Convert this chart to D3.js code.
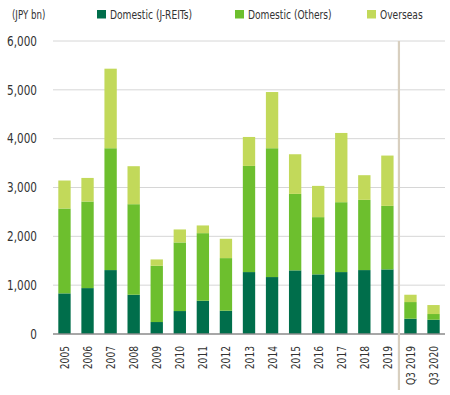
<!DOCTYPE html>
<html><head><meta charset="utf-8">
<script src="https://cdn.jsdelivr.net/npm/d3@7/dist/d3.min.js"></script>
<style>
body{margin:0;background:#fff;}
text{font-family:"DejaVu Sans Condensed","Liberation Sans Narrow","Roboto",sans-serif;fill:#333;}
</style></head>
<body><svg id="c" width="450" height="395"></svg>
<script>
const categories = ["2005","2006","2007","2008","2009","2010","2011","2012","2013","2014","2015","2016","2017","2018","2019","Q3 2019","Q3 2020"];
const jreits  = [832, 940, 1309, 804, 245, 470, 681, 477, 1268, 1166, 1303, 1221, 1268, 1309, 1323, 313, 292];
const others  = [1738, 1773, 2495, 1854, 1152, 1405, 1384, 1077, 2174, 2638, 1566, 1172, 1431, 1438, 1301, 341, 117];
const overseas= [573, 483, 1629, 778, 130, 266, 158, 396, 593, 1151, 812, 640, 1418, 505, 1030, 150, 184];
const seriesNames = ["Domestic (J-REITs)", "Domestic (Others)", "Overseas"];
const yTicks = [0, 1000, 2000, 3000, 4000, 5000, 6000];
const colors = ["#006e4b", "#6dbf2e", "#c2d95a"];

function condense(sel, k) {
  sel.each(function() {
    const w = this.getComputedTextLength();
    if (w > 0) d3.select(this).attr("textLength", w * k).attr("lengthAdjust", "spacingAndGlyphs");
  });
}

const svg = d3.select("#c");
const x = d3.scaleBand().domain(categories).range([53, 445]).paddingInner(0.465).paddingOuter(0.23);
const y = d3.scaleLinear().domain([0, 6000]).range([334, 41]);

// gridlines
svg.append("g").selectAll("line").data(yTicks.filter(d => d > 0)).join("line")
  .attr("x1", 53).attr("x2", 445).attr("y1", d => y(d)).attr("y2", d => y(d))
  .attr("stroke", "#d6d6d6").attr("stroke-width", 1);

// y labels
const yAxis = d3.axisLeft(y).tickValues(yTicks).tickFormat(d3.format(",")).tickSize(0).tickPadding(0);
const ya = svg.append("g").attr("transform", "translate(37,0)").call(yAxis);
ya.select(".domain").remove();
ya.selectAll("text").style("font-size", "13.5px").attr("fill", "#333").call(condense, 0.86);

// stacked data
const rows = categories.map((c, i) => ({cat: c, a: jreits[i], b: others[i], c: overseas[i]}));
const stack = d3.stack().keys(["a", "b", "c"])(rows);
svg.append("g").selectAll("g").data(stack).join("g").attr("fill", (d, i) => colors[i])
  .selectAll("rect").data(d => d).join("rect")
  .attr("x", d => x(d.data.cat)).attr("width", x.bandwidth())
  .attr("y", d => y(d[1])).attr("height", d => y(d[0]) - y(d[1]));

// bottom axis line
svg.append("line").attr("x1", 53).attr("x2", 445).attr("y1", y(0)).attr("y2", y(0))
  .attr("stroke", "#8a8a8a").attr("stroke-width", 1.3);

// separator
const sepX = x("2019") + x.bandwidth() + (x.step() - x.bandwidth()) / 2;
svg.append("line").attr("x1", sepX).attr("x2", sepX).attr("y1", 41).attr("y2", 390)
  .attr("stroke", "#d8cfbf").attr("stroke-width", 2.2);

// x labels
const xAxis = d3.axisBottom(x).tickSize(0).tickPadding(0);
const xa = svg.append("g").attr("transform", `translate(0,${y(0)})`).call(xAxis);
xa.select(".domain").remove();
xa.selectAll("text").style("font-size", "13px").attr("text-anchor", "end")
  .attr("transform", "rotate(-90)").attr("x", -12).attr("y", 0).attr("dy", "0.35em").attr("fill", "#333")
  .call(condense, 0.78);

// unit label
svg.append("text").attr("x", 12).attr("y", 19).style("font-size", "12px").text("(JPY bn)").call(condense, 0.8);

// legend
const legX = [97, 235, 367];
const leg = svg.append("g").selectAll("g").data(seriesNames).join("g")
  .attr("transform", (d, i) => `translate(${legX[i]},10)`);
leg.append("rect").attr("width", 9).attr("height", 8.5).attr("fill", (d, i) => colors[i]);
leg.append("text").attr("x", 13).attr("y", 9).style("font-size", "13px").text(d => d).call(condense, 0.78);
</script></body></html>
